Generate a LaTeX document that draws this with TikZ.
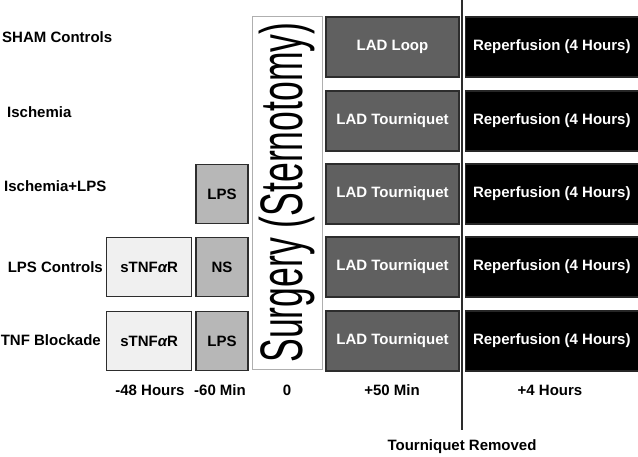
\documentclass[tikz,border=0pt]{standalone}
\usepackage{fontspec}
\setmainfont{Liberation Sans}
\usepackage{graphicx}
\usepackage{tikz}
\usetikzlibrary{positioning}
\definecolor{lineColor}{RGB}{45, 45, 45}
\definecolor{preFill}{RGB}{240, 240, 240}
\definecolor{injFill}{RGB}{183, 183, 183}
\definecolor{ladFill}{RGB}{96, 96, 96}
\definecolor{surgLine}{RGB}{175, 175, 175}
\tikzset{
    row_label/.style={
        font=\fontsize{15}{17}\selectfont\bfseries,
        inner sep=0pt
    },
    time_label/.style={
        row_label
    },
    pre_box/.style={
        draw=lineColor,
        line width=1.3pt,
        fill=preFill,
        text=black,
        font=\fontsize{15}{17}\selectfont\bfseries,
        minimum width=85pt,
        minimum height=59pt,
        inner sep=0pt
    },
    inj_box/.style={
        pre_box,
        fill=injFill,
        minimum width=52pt
    },
    lad_box/.style={
        pre_box,
        fill=ladFill,
        text=white,
        minimum width=133pt,
        minimum height=60pt
    },
    rep_box/.style={
        lad_box,
        draw=black!85,
        fill=black,
        minimum width=173pt
    },
    surg_box/.style={
        draw=surgLine,
        line width=0.8pt,
        fill=white,
        minimum width=353pt,
        minimum height=70pt,
        inner sep=0pt,
        font=\fontsize{60}{60}\selectfont
    }
}

\begin{document}
\begin{tikzpicture}[x=1pt, y=-1pt]
    \useasboundingbox (0,0) rectangle (638,457);

    % surgery column
    \node[surg_box, rotate=90] (surgery) at (287,192.5)
        {\scalebox{0.593}[1]{Surgery (Sternotomy)}};

    % LAD and reperfusion columns
    \node[lad_box] (lad1) at (392.5,47) {LAD Loop};
    \node[lad_box] (lad2) at (392.5,121) {LAD Tourniquet};
    \node[lad_box] (lad3) at (392.5,194) {LAD Tourniquet};
    \node[lad_box] (lad4) at (392.5,267) {LAD Tourniquet};
    \node[lad_box] (lad5) at (392.5,341) {LAD Tourniquet};

    \node[rep_box, right=5pt of lad1] (rep1) {Reperfusion (4 Hours)};
    \node[rep_box, right=5pt of lad2] (rep2) {Reperfusion (4 Hours)};
    \node[rep_box, right=5pt of lad3] (rep3) {Reperfusion (4 Hours)};
    \node[rep_box, right=5pt of lad4] (rep4) {Reperfusion (4 Hours)};
    \node[rep_box, right=5pt of lad5] (rep5) {Reperfusion (4 Hours)};

    % pretreatment
    \node[inj_box] (inj3) at (222,194) {LPS};
    \node[inj_box] (inj4) at (222,267) {NS};
    \node[inj_box] (inj5) at (222,341) {LPS};
    \node[pre_box, left=3pt of inj4] (pre4) {sTNF{\itshape α}R};
    \node[pre_box, left=3pt of inj5] (pre5) {sTNF{\itshape α}R};

    % group names
    \node[row_label, anchor=west] (sham) at (2,37.5) {SHAM Controls};
    \node[row_label, anchor=west] (isch) at (7,112) {Ischemia};
    \node[row_label, anchor=west] (ischlps) at (4,186) {Ischemia+LPS};
    \node[row_label, anchor=east] (lpsctl) at (103,267) {LPS Controls};
    \node[row_label, anchor=east] (tnfblk) at (101,340) {TNF Blockade};

    % time axis
    \node[time_label] (t48h) at (150,390) {-48 Hours};
    \node[time_label] (t60m) at (220,390) {-60 Min};
    \node[time_label] (t0) at (287,390) {0};
    \node[time_label] (t50m) at (392,390) {+50 Min};
    \node[time_label] (t4h) at (550,390) {+4 Hours};

    \coordinate (cut_top) at (462,0);
    \coordinate (cut_bot) at (462,430);
    \node[time_label] (removed) at (462,447) {Tourniquet Removed};
    \draw[lineColor, line width=1.6pt] (cut_top) -- (cut_bot);
\end{tikzpicture}
\end{document}
